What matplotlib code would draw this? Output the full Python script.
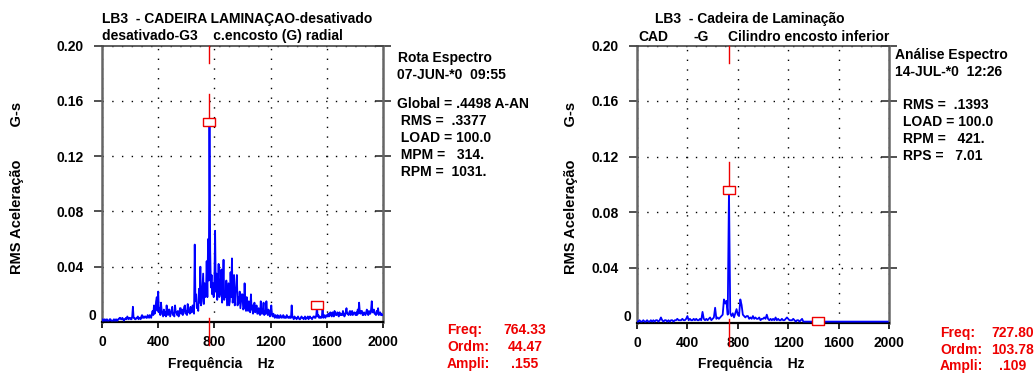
import numpy as np
import matplotlib
matplotlib.use("Agg")
import matplotlib.pyplot as plt

plt.rcParams['font.family'] = ['Liberation Sans', 'DejaVu Sans']
plt.rcParams['font.weight'] = 'bold'

W, H = 1035, 373

# ---------------- data (G-s) ----------------
# left spectrum: 5 Hz bins from 0 to 1995 Hz
left_step = 5
left_amp = [
    .001, .002, .001, .001, .002, .001, .001, .002, .001, .001, .001, .002, .002, .001, .001, .001, .001, .002, .001, .001,
    .002, .001, .001, .002, .002, .003, .003, .002, .002, .003, .002, .001, .002, .002, .003, .002, .004, .003, .002, .003,
    .003, .002, .002, .004, .011, .003, .003, .002, .002, .003, .003, .004, .002, .003, .003, .002, .004, .005, .003, .004,
    .003, .004, .004, .003, .003, .005, .004, .003, .005, .004, .003, .006, .008, .005, .012, .006, .009, .015, .018, .008,
    .022, .007, .010, .005, .014, .008, .006, .004, .009, .005, .007, .004, .012, .006, .005, .009, .009, .004, .006, .008,
    .011, .005, .006, .004, .012, .007, .007, .005, .008, .004, .005, .010, .010, .006, .009, .005, .007, .011, .012, .006,
    .008, .005, .013, .007, .009, .006, .011, .007, .007, .012, .010, .006, .056, .015, .020, .010, .012, .008, .024, .014,
    .040, .012, .015, .025, .035, .013, .028, .018, .020, .044, .018, .060, .030, .145, .052, .025, .034, .020, .028, .018,
    .030, .066, .022, .035, .016, .025, .042, .018, .020, .030, .038, .014, .024, .045, .016, .022, .018, .030, .012, .020,
    .028, .012, .015, .036, .018, .046, .014, .020, .034, .012, .022, .025, .034, .012, .018, .014, .022, .010, .015, .020,
    .020, .009, .010, .028, .012, .008, .018, .010, .008, .015, .010, .007, .020, .009, .012, .006, .009, .014, .007, .008,
    .012, .006, .006, .010, .007, .005, .015, .006, .006, .009, .014, .005, .008, .006, .015, .007, .005, .009, .006, .004,
    .007, .012, .005, .004, .006, .004, .003, .005, .004, .003, .005, .003, .004, .003, .005, .004, .003, .004, .005, .003,
    .004, .003, .003, .005, .004, .003, .003, .004, .003, .003, .012, .004, .003, .002, .004, .003, .003, .002, .003, .004,
    .003, .002, .002, .003, .004, .003, .003, .002, .003, .004, .002, .003, .003, .004, .002, .003, .004, .003, .003, .002,
    .003, .004, .004, .003, .003, .005, .011, .004, .005, .003, .004, .003, .003, .004, .011, .003, .004, .005, .003, .004,
    .005, .004, .006, .004, .005, .007, .005, .004, .007, .006, .004, .008, .006, .005, .005, .007, .006, .004, .007, .005,
    .006, .005, .005, .008, .006, .004, .005, .007, .010, .006, .006, .005, .007, .008, .005, .006, .008, .005, .006, .007,
    .006, .005, .007, .005, .009, .006, .014, .007, .006, .008, .008, .005, .005, .007, .006, .005, .007, .009, .006, .005,
    .008, .006, .006, .009, .015, .007, .007, .009, .006, .006, .005, .008, .006, .010, .005, .006, .007, .005, .006, .005,
]
# right spectrum: 10 Hz bins from 0 to 1990 Hz
right_step = 10
right_amp = [
    .001, .001, .002, .001, .001, .002, .001, .001, .002, .001,
    .001, .002, .001, .002, .001, .002, .002, .001, .002, .004,
    .002, .001, .002, .002, .001, .002, .001, .002, .002, .001,
    .002, .002, .003, .002, .002, .002, .003, .002, .002, .003,
    .005, .002, .003, .002, .002, .003, .002, .003, .002, .002,
    .003, .002, .008, .003, .002, .003, .002, .003, .004, .002,
    .003, .004, .011, .003, .004, .003, .004, .005, .006, .017,
    .014, .016, .006, .096, .007, .005, .007, .004, .007, .010,
    .006, .005, .017, .013, .006, .005, .004, .005, .005, .003,
    .004, .003, .005, .003, .004, .003, .003, .004, .002, .003,
    .003, .004, .003, .006, .003, .002, .003, .002, .003, .002,
    .004, .002, .003, .002, .002, .003, .002, .002, .003, .004,
    .003, .002, .002, .002, .003, .002, .001, .002, .002, .001,
    .002, .003, .001, .001, .001, .001, .001, .001, .001, .001,
    .001, .001, .001, .001, .001, .001, .001, .001, .001, .001,
    .001, .001, .001, .001, .001, .001, .001, .001, .001, .001,
    .001, .001, .001, .001, .001, .001, .001, .001, .001, .001,
    .001, .001, .001, .001, .001, .001, .001, .001, .001, .001,
    .001, .001, .001, .001, .001, .001, .001, .001, .001, .001,
    .001, .001, .001, .001, .001, .001, .001, .001, .001, .001,
]
left_marker_freq = [764.33, 1528.66]
left_marker_amp = [0.145, 0.0125]
right_marker_freq = [727.80, 1440.0]
right_marker_amp = [0.096, 0.0015]

x_ticks = [0, 400, 800, 1200, 1600, 2000]
y_ticks = [0.04, 0.08, 0.12, 0.16, 0.20]
y_ticklabels = ["0.04", "0.08", "0.12", "0.16", "0.20"]

left_title = ["LB3  - CADEIRA LAMINAÇAO-desativado", "desativado-G3    c.encosto (G) radial"]
right_title1 = "LB3  - Cadeira de Laminação"
right_title2 = [("CAD", 638), ("-G", 694), ("Cilindro encosto inferior", 728)]
left_info_head = ["Rota Espectro", "07-JUN-*0  09:55"]
left_info = ["Global = .4498 A-AN", " RMS =  .3377", " LOAD = 100.0", " MPM =   314.", " RPM =  1031."]
right_info_head = ["Análise Espectro", "14-JUL-*0  12:26"]
right_info = ["RMS =  .1393", "LOAD = 100.0", "RPM =   421.", "RPS =   7.01"]
left_cursor = [("Freq:", "764.33"), ("Ordm:", "44.47"), ("Ampli:", ".155")]
right_cursor = [("Freq:", "727.80"), ("Ordm:", "103.78"), ("Ampli:", ".109")]

BLUE = "#0000ff"
RED = "#ee0000"
FS = 10

fig = plt.figure(figsize=(W / 100, H / 100), dpi=100)


def ftext(x, y, s, **kw):
    kw.setdefault("fontsize", FS)
    kw.setdefault("fontweight", "bold")
    kw.setdefault("va", "center")
    fig.text(x / W, 1 - y / H, s, **kw)


rect_marker = [(-1.45, -1), (1.45, -1), (1.45, 1), (-1.45, 1), (-1.45, -1)]


def make_axes(px_left, px_right, px_top, px_bottom, amp, step, mk_f, mk_a):
    ax = fig.add_axes([px_left / W, 1 - px_bottom / H,
                       (px_right - px_left) / W, (px_bottom - px_top) / H])
    f = np.arange(len(amp)) * step
    ax.plot(f, amp, color=BLUE, lw=1.3, zorder=3)
    ax.set_xlim(0, 2000)
    ax.set_ylim(0, 0.20)
    ax.set_xticks(x_ticks)
    ax.set_xticklabels([str(t) for t in x_ticks], fontsize=FS, fontweight="bold")
    ax.set_yticks(y_ticks)
    ax.set_yticklabels(y_ticklabels, fontsize=FS, fontweight="bold")
    ax.tick_params(axis="x", direction="out", length=4, width=1.2, pad=5.5, color="black")
    ax.tick_params(axis="y", direction="out", length=6, width=1.2, pad=7,
                   color="#333333", right=True)
    for t in ax.yaxis.get_major_ticks():
        t.tick2line.set_marker("_")
        t.tick2line.set_markersize(11)
    ax.grid(True, color="black", linestyle=(0, (1, 6)), lw=1.0)
    for side in ("left", "right"):
        ax.spines[side].set_color("#666666")
        ax.spines[side].set_linewidth(1.8)
    ax.spines["top"].set_color("#444444")
    ax.spines["top"].set_linewidth(1.2)
    ax.spines["bottom"].set_color("black")
    ax.spines["bottom"].set_linewidth(1.6)
    # "0" label near the baseline
    ax.annotate("0", xy=(0, 0), xycoords=("axes fraction", "data"),
                xytext=(-10, 6), textcoords="offset pixels",
                ha="center", va="center", fontsize=FS, fontweight="bold")
    # cursor line
    fc = mk_f[0]
    ax.plot([fc, fc], [0.20, 0.1877], color=RED, lw=1.0, zorder=4, clip_on=False)
    ax.plot([fc, fc], [mk_a[0] + 0.02, mk_a[0]], color=RED, lw=1.0, zorder=4)
    ax.plot([fc, fc], [0.003, -0.0166], color=RED, lw=1.0, zorder=4, clip_on=False)
    ax.plot(mk_f, mk_a, linestyle="none", marker=rect_marker, markersize=8.5,
            markerfacecolor="white", markeredgecolor=RED, markeredgewidth=1.0,
            zorder=5, clip_on=False)
    return ax


axL = make_axes(102, 383, 45.5, 322, left_amp, left_step, left_marker_freq, left_marker_amp)
axR = make_axes(637, 889, 45.5, 323, right_amp, right_step, right_marker_freq, right_marker_amp)

# titles
ftext(102, 19, left_title[0])
ftext(102, 36, left_title[1])
ftext(655, 19, right_title1)
for s, x in right_title2:
    ftext(x, 37, s)

# axis labels
ylab = "RMS Aceleração        G-s"
ftext(17, 188, ylab, rotation=90, ha="center", fontsize=10.5)
ftext(571, 188, ylab, rotation=90, ha="center", fontsize=10.5)
ftext(221, 364, "Frequência    Hz", ha="center")
ftext(751, 364, "Frequência    Hz", ha="center")

# info blocks
ftext(398, 58, left_info_head[0])
ftext(397, 75, left_info_head[1])
for i, s in enumerate(left_info):
    ftext(397, 104 + i * 17, s)
ftext(895, 55, right_info_head[0])
ftext(895, 72, right_info_head[1])
for i, s in enumerate(right_info):
    ftext(903, 105 + i * 17, s)

# cursor readouts
for i, (k, v) in enumerate(left_cursor):
    ftext(447, 330 + i * 17, k, color=RED)
    ftext(525, 330 + i * 17, v, color=RED, ha="center")
for i, (k, v) in enumerate(right_cursor):
    ftext(940, 333 + i * 16.5, k, color=RED)
    ftext(1013, 333 + i * 16.5, v, color=RED, ha="center")

fig.savefig("out.png", dpi=100)
